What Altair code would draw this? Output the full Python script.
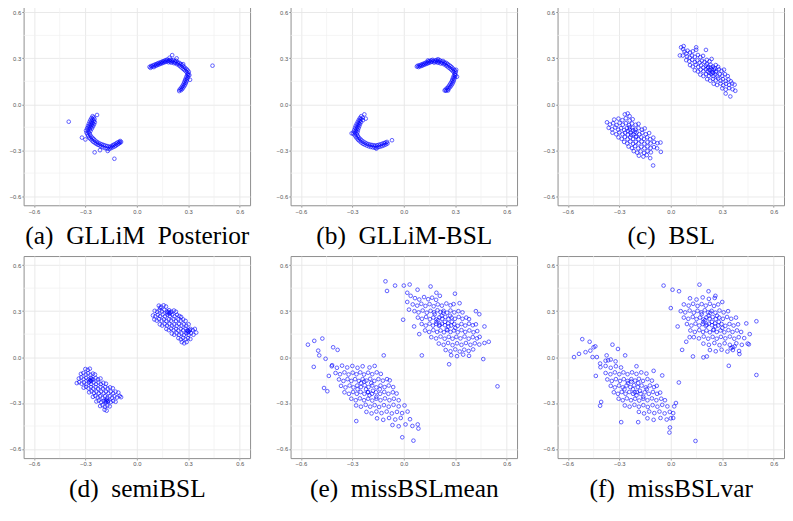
import altair as alt
import pandas as pd

# ---------------- data ----------------
MAJOR = [-0.6, -0.3, 0.0, 0.3, 0.6]
MINOR = [-0.45, -0.15, 0.15, 0.45]
DOMAIN = [-0.66, 0.66]

CAPTIONS = ["(a)\u00a0\u00a0GLLiM\u00a0\u00a0Posterior", "(b)\u00a0\u00a0GLLiM-BSL", "(c)\u00a0\u00a0BSL",
            "(d)\u00a0\u00a0semiBSL", "(e)\u00a0\u00a0missBSLmean", "(f)\u00a0\u00a0missBSLvar"]

A_UPPER = [
(0.074,0.244),(0.080,0.238),(0.083,0.250),(0.090,0.246),(0.094,0.254),(0.099,0.243),(0.103,0.258),(0.108,0.251),
(0.112,0.262),(0.116,0.254),(0.120,0.266),(0.124,0.258),(0.128,0.270),(0.133,0.262),(0.137,0.273),(0.141,0.266),
(0.145,0.277),(0.149,0.269),(0.153,0.281),(0.157,0.273),(0.161,0.284),(0.165,0.276),(0.169,0.288),(0.173,0.279),
(0.177,0.292),(0.181,0.283),(0.185,0.274),(0.189,0.287),(0.193,0.279),(0.197,0.291),(0.201,0.272),(0.205,0.284),
(0.209,0.276),(0.213,0.289),(0.217,0.268),(0.221,0.280),(0.225,0.271),(0.229,0.284),(0.233,0.262),(0.237,0.275),
(0.241,0.266),(0.245,0.255),(0.249,0.270),(0.253,0.248),(0.257,0.262),(0.261,0.240),(0.265,0.254),(0.269,0.232),
(0.273,0.246),(0.277,0.224),(0.281,0.238),(0.285,0.216),(0.289,0.230),(0.292,0.208),(0.296,0.221),(0.299,0.199),
(0.303,0.212),(0.300,0.188),(0.294,0.193),(0.297,0.176),(0.289,0.181),(0.293,0.164),(0.285,0.168),(0.290,0.152),
(0.281,0.157),(0.286,0.141),(0.277,0.146),(0.282,0.130),(0.273,0.134),(0.277,0.120),(0.268,0.123),(0.271,0.110),
(0.262,0.113),(0.265,0.100),(0.256,0.103),(0.258,0.092),(0.249,0.095),(0.247,0.086),
(0.441,0.252),(0.206,0.321),(0.191,0.304),(0.232,0.300),(0.270,0.262),(0.306,0.190),(0.310,0.160),
]
A_LOWER = [
(-0.258,-0.078),(-0.252,-0.086),(-0.264,-0.090),(-0.247,-0.096),(-0.258,-0.100),(-0.270,-0.102),(-0.250,-0.108),
(-0.263,-0.112),(-0.275,-0.114),(-0.245,-0.118),(-0.256,-0.122),(-0.268,-0.125),(-0.280,-0.128),(-0.250,-0.132),
(-0.262,-0.135),(-0.274,-0.138),(-0.285,-0.142),(-0.256,-0.145),(-0.268,-0.149),(-0.280,-0.152),(-0.290,-0.157),
(-0.262,-0.158),(-0.274,-0.163),(-0.286,-0.168),(-0.296,-0.172),(-0.270,-0.174),(-0.282,-0.180),(-0.293,-0.186),
(-0.276,-0.190),(-0.288,-0.196),(-0.272,-0.201),(-0.284,-0.207),(-0.266,-0.212),(-0.278,-0.218),(-0.258,-0.220),
(-0.270,-0.227),(-0.250,-0.229),(-0.262,-0.236),(-0.242,-0.238),(-0.254,-0.245),(-0.233,-0.246),(-0.245,-0.252),
(-0.224,-0.252),(-0.236,-0.259),(-0.214,-0.258),(-0.226,-0.265),(-0.204,-0.262),(-0.216,-0.270),(-0.194,-0.266),
(-0.206,-0.276),(-0.184,-0.270),(-0.196,-0.282),(-0.174,-0.273),(-0.184,-0.287),(-0.164,-0.276),(-0.172,-0.290),
(-0.155,-0.279),(-0.160,-0.293),(-0.146,-0.272),(-0.150,-0.286),(-0.138,-0.266),(-0.140,-0.281),(-0.130,-0.262),
(-0.130,-0.276),(-0.121,-0.256),(-0.122,-0.270),(-0.113,-0.250),(-0.114,-0.264),(-0.104,-0.246),(-0.106,-0.258),
(-0.097,-0.240),(-0.098,-0.252),(-0.092,-0.246),
(-0.397,-0.114),(-0.320,-0.218),(-0.131,-0.356),(-0.246,-0.314),(-0.300,-0.230),(-0.215,-0.300),(-0.170,-0.305),
(-0.232,-0.070),
]

B_UPPER = [
(0.076,0.246),(0.081,0.252),(0.086,0.243),(0.090,0.254),(0.095,0.248),(0.099,0.258),(0.104,0.251),(0.108,0.262),
(0.112,0.255),(0.117,0.266),(0.121,0.259),(0.125,0.270),(0.130,0.263),(0.134,0.274),(0.139,0.267),(0.143,0.279),
(0.147,0.271),(0.151,0.283),(0.156,0.275),(0.160,0.287),(0.164,0.278),(0.168,0.290),(0.173,0.281),(0.177,0.272),
(0.181,0.285),(0.185,0.277),(0.190,0.289),(0.194,0.280),(0.198,0.271),(0.202,0.284),(0.206,0.275),(0.211,0.287),
(0.215,0.266),(0.219,0.279),(0.223,0.270),(0.228,0.283),(0.232,0.262),(0.236,0.275),(0.240,0.266),(0.244,0.255),
(0.248,0.270),(0.252,0.249),(0.256,0.262),(0.260,0.241),(0.265,0.255),(0.269,0.234),(0.273,0.248),(0.277,0.226),
(0.281,0.240),(0.285,0.217),(0.289,0.231),(0.292,0.209),(0.296,0.222),(0.299,0.200),(0.303,0.212),(0.301,0.189),
(0.295,0.193),(0.298,0.178),(0.290,0.182),(0.294,0.166),(0.286,0.170),(0.291,0.154),(0.282,0.158),(0.287,0.143),
(0.278,0.147),(0.282,0.132),(0.272,0.136),(0.276,0.122),(0.266,0.125),(0.270,0.112),(0.259,0.114),(0.262,0.103),
(0.251,0.105),(0.254,0.095),(0.243,0.096),(0.246,0.088),(0.238,0.090),
(0.310,0.180),(0.305,0.225),(0.258,0.090),(0.140,0.286),(0.200,0.294),
]
B_LOWER = [
(-0.248,-0.078),(-0.240,-0.088),(-0.256,-0.090),(-0.250,-0.098),(-0.262,-0.102),(-0.238,-0.104),(-0.256,-0.110),
(-0.268,-0.114),(-0.250,-0.118),(-0.262,-0.124),(-0.274,-0.127),(-0.256,-0.131),(-0.268,-0.137),(-0.280,-0.140),
(-0.260,-0.144),(-0.272,-0.150),(-0.284,-0.153),(-0.264,-0.157),(-0.276,-0.162),(-0.288,-0.166),(-0.268,-0.170),
(-0.280,-0.175),(-0.292,-0.179),(-0.270,-0.183),(-0.283,-0.188),(-0.295,-0.192),(-0.274,-0.196),(-0.286,-0.202),
(-0.268,-0.207),(-0.280,-0.212),(-0.262,-0.218),(-0.274,-0.222),(-0.254,-0.227),(-0.266,-0.232),(-0.246,-0.236),
(-0.258,-0.241),(-0.236,-0.244),(-0.248,-0.250),(-0.226,-0.251),(-0.238,-0.258),(-0.216,-0.257),(-0.228,-0.264),
(-0.206,-0.261),(-0.216,-0.270),(-0.196,-0.264),(-0.204,-0.275),(-0.186,-0.266),(-0.192,-0.279),(-0.176,-0.268),
(-0.180,-0.282),(-0.166,-0.270),(-0.168,-0.284),(-0.156,-0.268),(-0.157,-0.282),(-0.146,-0.265),(-0.146,-0.279),
(-0.136,-0.262),(-0.135,-0.276),(-0.126,-0.258),(-0.124,-0.272),(-0.116,-0.254),(-0.114,-0.267),(-0.107,-0.250),
(-0.104,-0.262),(-0.098,-0.246),(-0.095,-0.256),
(-0.069,-0.235),(-0.304,-0.190),(-0.230,-0.066),(-0.222,-0.094),(-0.160,-0.290),
]

C_UPPER = [
(0.060,0.372),(0.075,0.380),(0.072,0.360),
(0.080,0.344),(0.098,0.350),(0.112,0.338),(0.128,0.346),(0.090,0.332),(0.148,0.356),
(0.070,0.318),(0.095,0.312),(0.110,0.305),(0.124,0.318),(0.140,0.310),(0.158,0.322),(0.172,0.308),(0.188,0.316),
(0.090,0.288),(0.108,0.280),(0.125,0.290),(0.140,0.276),(0.155,0.286),(0.168,0.272),(0.182,0.284),(0.196,0.276),
(0.210,0.290),(0.226,0.280),(0.238,0.296),
(0.112,0.256),(0.128,0.246),(0.145,0.258),(0.160,0.244),(0.176,0.254),(0.190,0.240),(0.204,0.252),(0.218,0.244),
(0.232,0.258),(0.246,0.246),(0.262,0.256),(0.276,0.244),
(0.140,0.222),(0.158,0.214),(0.174,0.226),(0.190,0.216),(0.204,0.228),(0.216,0.214),(0.228,0.224),(0.240,0.212),
(0.252,0.226),(0.266,0.216),(0.280,0.228),(0.296,0.218),(0.310,0.226),
(0.172,0.194),(0.190,0.184),(0.206,0.196),(0.222,0.186),(0.236,0.198),(0.248,0.184),(0.260,0.194),(0.272,0.182),
(0.286,0.196),(0.300,0.186),(0.316,0.196),(0.332,0.184),
(0.212,0.164),(0.230,0.154),(0.246,0.166),(0.262,0.156),(0.276,0.168),(0.290,0.154),(0.304,0.164),(0.320,0.152),
(0.336,0.162),(0.350,0.150),
(0.250,0.134),(0.270,0.126),(0.290,0.136),(0.306,0.124),(0.322,0.134),(0.340,0.126),(0.358,0.136),(0.372,0.128),
(0.300,0.104),(0.320,0.096),(0.340,0.106),(0.360,0.098),(0.376,0.088),
(0.347,0.051),(0.053,0.319),(0.148,0.372),(0.205,0.355),(0.320,0.070),
(0.215,0.235),(0.232,0.240),(0.245,0.205),(0.225,0.205),(0.255,0.236),(0.240,0.228),(0.210,0.262),(0.262,0.210),
]
C_LOWER = [
(-0.268,-0.066),(-0.251,-0.060),(-0.240,-0.078),
(-0.330,-0.100),(-0.305,-0.094),(-0.282,-0.104),(-0.262,-0.092),(-0.240,-0.106),(-0.222,-0.098),
(-0.372,-0.118),(-0.355,-0.132),(-0.336,-0.124),(-0.316,-0.136),(-0.298,-0.122),(-0.280,-0.134),(-0.262,-0.124),
(-0.244,-0.136),(-0.226,-0.126),(-0.205,-0.134),(-0.188,-0.128),
(-0.362,-0.154),(-0.342,-0.164),(-0.324,-0.152),(-0.306,-0.166),(-0.290,-0.156),(-0.272,-0.168),(-0.256,-0.156),
(-0.240,-0.166),(-0.224,-0.154),(-0.206,-0.166),(-0.188,-0.156),(-0.168,-0.166),(-0.152,-0.158),
(-0.340,-0.186),(-0.318,-0.196),(-0.300,-0.184),(-0.282,-0.196),(-0.266,-0.186),(-0.250,-0.198),(-0.234,-0.186),
(-0.218,-0.196),(-0.200,-0.184),(-0.184,-0.196),(-0.166,-0.186),(-0.146,-0.196),(-0.126,-0.188),
(-0.305,-0.216),(-0.286,-0.226),(-0.268,-0.214),(-0.252,-0.228),(-0.236,-0.216),(-0.220,-0.226),(-0.204,-0.214),
(-0.188,-0.228),(-0.172,-0.216),(-0.156,-0.226),(-0.138,-0.216),(-0.120,-0.228),(-0.102,-0.218),
(-0.272,-0.246),(-0.254,-0.256),(-0.236,-0.244),(-0.220,-0.258),(-0.204,-0.246),(-0.188,-0.256),(-0.170,-0.244),
(-0.154,-0.258),(-0.136,-0.248),(-0.118,-0.256),(-0.098,-0.246),(-0.078,-0.254),(-0.060,-0.250),
(-0.246,-0.276),(-0.226,-0.286),(-0.208,-0.274),(-0.190,-0.288),(-0.172,-0.278),(-0.154,-0.288),(-0.136,-0.276),
(-0.118,-0.286),(-0.098,-0.280),(-0.080,-0.288),
(-0.216,-0.306),(-0.196,-0.316),(-0.176,-0.308),(-0.156,-0.318),(-0.136,-0.306),(-0.116,-0.314),(-0.058,-0.311),
(-0.186,-0.336),(-0.160,-0.342),(-0.140,-0.332),
(-0.103,-0.400),(-0.120,-0.352),
(-0.250,-0.175),(-0.230,-0.200),(-0.210,-0.180),(-0.240,-0.150),(-0.200,-0.210),(-0.220,-0.170),
]

D_UPPER = [
(0.128,0.336),(0.142,0.328),(0.156,0.338),(0.170,0.330),(0.135,0.322),
(0.104,0.302),(0.118,0.296),(0.132,0.306),(0.146,0.298),(0.160,0.308),(0.174,0.298),(0.188,0.306),(0.202,0.296),
(0.216,0.304),(0.228,0.296),
(0.094,0.272),(0.108,0.266),(0.122,0.276),(0.136,0.268),(0.150,0.278),(0.164,0.266),(0.178,0.276),(0.192,0.268),
(0.206,0.278),(0.220,0.266),(0.234,0.276),(0.248,0.268),(0.258,0.262),
(0.102,0.246),(0.116,0.238),(0.130,0.248),(0.144,0.238),(0.158,0.246),(0.172,0.236),(0.186,0.246),(0.200,0.238),
(0.214,0.248),(0.228,0.236),(0.242,0.246),(0.256,0.238),(0.270,0.246),(0.284,0.236),
(0.134,0.214),(0.148,0.206),(0.162,0.216),(0.176,0.206),(0.190,0.216),(0.204,0.206),(0.218,0.214),(0.232,0.204),
(0.246,0.216),(0.260,0.206),(0.274,0.214),(0.288,0.204),(0.302,0.214),
(0.172,0.184),(0.186,0.176),(0.200,0.186),(0.214,0.176),(0.228,0.184),(0.242,0.174),(0.256,0.184),(0.270,0.176),
(0.284,0.186),(0.298,0.174),(0.312,0.184),(0.326,0.176),(0.338,0.184),
(0.204,0.154),(0.218,0.146),(0.232,0.156),(0.246,0.146),(0.260,0.154),(0.274,0.144),(0.288,0.156),(0.302,0.146),
(0.316,0.156),(0.330,0.146),(0.346,0.160),
(0.242,0.124),(0.256,0.116),(0.270,0.126),(0.284,0.116),(0.298,0.124),(0.312,0.118),
(0.262,0.098),(0.276,0.090),(0.290,0.098),
(0.178,0.290),(0.190,0.284),(0.185,0.295),(0.196,0.290),(0.292,0.172),(0.302,0.166),(0.296,0.160),(0.308,0.176),
]
D_LOWER = [
(-0.300,-0.078),(-0.286,-0.084),(-0.274,-0.076),
(-0.326,-0.110),(-0.312,-0.104),(-0.298,-0.114),(-0.284,-0.106),(-0.270,-0.116),(-0.256,-0.108),(-0.244,-0.114),
(-0.338,-0.140),(-0.324,-0.134),(-0.310,-0.144),(-0.296,-0.136),(-0.282,-0.146),(-0.268,-0.136),(-0.254,-0.146),
(-0.240,-0.138),(-0.226,-0.146),(-0.212,-0.140),
(-0.350,-0.170),(-0.336,-0.164),(-0.322,-0.174),(-0.308,-0.166),(-0.294,-0.176),(-0.280,-0.166),(-0.266,-0.176),
(-0.252,-0.166),(-0.238,-0.176),(-0.224,-0.166),(-0.210,-0.176),(-0.196,-0.168),(-0.180,-0.174),
(-0.310,-0.200),(-0.296,-0.194),(-0.282,-0.204),(-0.268,-0.196),(-0.254,-0.206),(-0.240,-0.196),(-0.226,-0.206),
(-0.212,-0.196),(-0.198,-0.206),(-0.184,-0.196),(-0.170,-0.206),(-0.156,-0.198),(-0.140,-0.204),
(-0.278,-0.230),(-0.264,-0.224),(-0.250,-0.234),(-0.236,-0.226),(-0.222,-0.236),(-0.208,-0.226),(-0.194,-0.236),
(-0.180,-0.226),(-0.166,-0.236),(-0.152,-0.226),(-0.138,-0.236),(-0.124,-0.226),(-0.108,-0.232),
(-0.256,-0.260),(-0.242,-0.254),(-0.228,-0.264),(-0.214,-0.256),(-0.200,-0.266),(-0.186,-0.256),(-0.172,-0.266),
(-0.158,-0.256),(-0.144,-0.266),(-0.130,-0.256),(-0.116,-0.264),(-0.100,-0.254),(-0.092,-0.262),
(-0.236,-0.290),(-0.222,-0.284),(-0.208,-0.294),(-0.194,-0.286),(-0.180,-0.296),(-0.166,-0.286),(-0.152,-0.294),
(-0.138,-0.286),(-0.124,-0.292),
(-0.214,-0.320),(-0.200,-0.314),(-0.186,-0.324),(-0.172,-0.316),(-0.158,-0.322),
(-0.188,-0.344),(-0.176,-0.350),
(-0.272,-0.150),(-0.262,-0.144),(-0.276,-0.158),(-0.266,-0.156),(-0.178,-0.284),(-0.170,-0.292),(-0.184,-0.290),
(-0.174,-0.278),
]

E_UPPER = [
(0.065,0.385),(0.090,0.376),(0.118,0.392),(0.142,0.378),(0.165,0.388),(0.188,0.374),
(0.052,0.344),(0.078,0.336),(0.102,0.348),(0.126,0.334),(0.150,0.346),(0.174,0.332),(0.198,0.344),(0.222,0.336),
(0.248,0.350),(0.272,0.338),(0.290,0.346),
(0.062,0.300),(0.086,0.292),(0.110,0.304),(0.134,0.290),(0.156,0.302),(0.176,0.292),(0.196,0.306),(0.214,0.294),
(0.232,0.302),(0.252,0.290),(0.272,0.304),(0.294,0.292),(0.318,0.300),(0.342,0.292),
(0.082,0.258),(0.106,0.250),(0.130,0.262),(0.152,0.248),(0.172,0.258),(0.190,0.246),(0.208,0.260),(0.224,0.250),
(0.242,0.262),(0.260,0.248),(0.278,0.258),(0.298,0.250),(0.320,0.262),(0.342,0.250),(0.364,0.258),(0.380,0.248),
(0.104,0.216),(0.128,0.206),(0.150,0.218),(0.170,0.206),(0.188,0.216),(0.206,0.204),(0.222,0.218),(0.240,0.208),
(0.258,0.220),(0.276,0.206),(0.294,0.216),(0.314,0.204),(0.336,0.216),(0.358,0.206),(0.380,0.218),(0.402,0.208),
(0.420,0.214),
(0.124,0.174),(0.148,0.164),(0.172,0.176),(0.194,0.164),(0.214,0.174),(0.234,0.162),(0.254,0.176),(0.272,0.164),
(0.292,0.174),(0.314,0.162),(0.336,0.176),(0.358,0.164),(0.382,0.174),(0.406,0.162),(0.428,0.170),
(0.160,0.130),(0.188,0.122),(0.214,0.134),(0.238,0.120),(0.262,0.132),(0.284,0.120),(0.306,0.132),(0.330,0.122),
(0.354,0.134),(0.378,0.120),(0.402,0.130),(0.426,0.122),(0.442,0.132),
(0.204,0.088),(0.232,0.080),(0.258,0.092),(0.284,0.078),(0.310,0.090),(0.336,0.080),(0.362,0.092),(0.388,0.080),
(0.414,0.090),(0.440,0.082),(0.470,0.092),
(0.244,0.046),(0.272,0.038),(0.300,0.050),(0.326,0.036),(0.352,0.048),(0.378,0.040),(0.404,0.050),
(0.276,0.012),(0.310,0.006),(0.346,0.016),(0.380,0.008),
(0.546,-0.191),(0.105,0.011),(0.264,-0.047),(-0.004,0.244),(0.463,-0.013),(0.495,0.100),(-0.107,0.495),
(-0.098,0.432),(-0.051,0.467),(0.000,0.467),(0.034,0.474),(0.156,0.461),(0.298,0.414),(0.325,0.352),(0.420,0.300),
(0.080,0.440),(0.020,0.420),(0.040,0.400),(0.190,0.420),(0.210,0.400),(0.440,0.280),(0.470,0.200),(0.020,0.360),
(0.030,0.310),(0.060,0.200),(0.090,0.150),
(0.200,0.240),(0.220,0.270),(0.240,0.230),(0.260,0.200),(0.280,0.230),(0.180,0.280),(0.300,0.190),(0.250,0.180),
(0.210,0.210),(0.230,0.290),(0.270,0.270),(0.190,0.230),
]
E_LOWER = [
(-0.522,0.106),(-0.475,0.121),(-0.559,0.081),(-0.499,0.042),(-0.493,0.011),(-0.456,-0.011),(-0.525,-0.064),
(-0.437,-0.123),(-0.465,-0.202),(-0.446,-0.223),(-0.418,-0.053),(-0.386,0.047),(-0.412,0.064),
(-0.420,-0.060),(-0.390,-0.070),(-0.360,-0.056),(-0.330,-0.068),(-0.300,-0.058),(-0.270,-0.070),(-0.240,-0.060),
(-0.200,-0.068),(-0.170,-0.058),
(-0.398,-0.104),(-0.372,-0.112),(-0.346,-0.100),(-0.322,-0.114),(-0.298,-0.102),(-0.276,-0.112),(-0.254,-0.100),
(-0.232,-0.114),(-0.208,-0.102),(-0.184,-0.112),(-0.158,-0.100),(-0.134,-0.110),
(-0.378,-0.146),(-0.352,-0.156),(-0.328,-0.144),(-0.306,-0.156),(-0.284,-0.144),(-0.262,-0.156),(-0.240,-0.144),
(-0.218,-0.154),(-0.196,-0.142),(-0.172,-0.156),(-0.148,-0.144),(-0.122,-0.154),(-0.098,-0.144),(-0.082,-0.152),
(-0.366,-0.188),(-0.340,-0.198),(-0.316,-0.186),(-0.294,-0.198),(-0.272,-0.186),(-0.250,-0.196),(-0.228,-0.184),
(-0.206,-0.196),(-0.184,-0.186),(-0.160,-0.198),(-0.136,-0.186),(-0.112,-0.196),(-0.088,-0.186),(-0.062,-0.196),
(-0.346,-0.230),(-0.320,-0.240),(-0.296,-0.228),(-0.274,-0.240),(-0.252,-0.228),(-0.230,-0.240),(-0.208,-0.228),
(-0.186,-0.240),(-0.162,-0.230),(-0.138,-0.240),(-0.114,-0.228),(-0.090,-0.240),(-0.064,-0.230),(-0.042,-0.238),
(-0.306,-0.272),(-0.280,-0.282),(-0.256,-0.270),(-0.232,-0.282),(-0.208,-0.272),(-0.184,-0.284),(-0.160,-0.272),
(-0.136,-0.282),(-0.110,-0.270),(-0.084,-0.282),(-0.058,-0.272),(-0.030,-0.282),
(-0.278,-0.316),(-0.250,-0.324),(-0.222,-0.312),(-0.196,-0.324),(-0.170,-0.314),(-0.144,-0.326),(-0.116,-0.314),
(-0.088,-0.324),(-0.060,-0.312),(-0.030,-0.322),(0.004,-0.316),
(-0.218,-0.358),(-0.188,-0.368),(-0.160,-0.356),(-0.130,-0.366),(-0.100,-0.356),(-0.070,-0.368),(-0.040,-0.358),
(-0.010,-0.366),(0.022,-0.356),
(-0.156,-0.400),(-0.120,-0.410),(-0.086,-0.398),(-0.050,-0.408),(-0.018,-0.398),(0.036,-0.406),
(-0.066,-0.444),(-0.030,-0.452),(0.010,-0.440),(0.050,-0.450),(0.081,-0.440),
(-0.277,-0.418),(-0.009,-0.524),(0.056,-0.546),(-0.117,0.011),(0.085,-0.467),
(-0.250,-0.170),(-0.220,-0.210),(-0.200,-0.250),(-0.180,-0.220),(-0.160,-0.260),(-0.270,-0.210),(-0.230,-0.160),
(-0.140,-0.210),(-0.190,-0.170),(-0.210,-0.230),
]

F_UPPER = [
(0.112,0.384),(0.150,0.376),(0.186,0.390),(0.222,0.380),(0.256,0.386),
(0.076,0.344),(0.104,0.336),(0.130,0.348),(0.156,0.334),(0.180,0.346),(0.204,0.336),(0.228,0.348),(0.252,0.334),
(0.276,0.344),
(0.058,0.300),(0.084,0.292),(0.110,0.304),(0.134,0.290),(0.156,0.302),(0.178,0.292),(0.198,0.306),(0.218,0.292),
(0.238,0.302),(0.260,0.290),(0.284,0.304),(0.308,0.292),(0.334,0.300),
(0.076,0.258),(0.102,0.250),(0.128,0.262),(0.150,0.248),(0.170,0.258),(0.190,0.246),(0.208,0.260),(0.226,0.250),
(0.244,0.262),(0.262,0.248),(0.282,0.258),(0.304,0.250),(0.328,0.262),(0.352,0.250),(0.380,0.258),
(0.094,0.216),(0.120,0.206),(0.144,0.218),(0.166,0.206),(0.186,0.216),(0.204,0.204),(0.222,0.218),(0.240,0.208),
(0.258,0.220),(0.276,0.206),(0.296,0.216),(0.318,0.204),(0.342,0.216),(0.366,0.206),(0.392,0.214),
(0.114,0.174),(0.140,0.164),(0.166,0.176),(0.188,0.164),(0.208,0.174),(0.228,0.162),(0.248,0.176),(0.268,0.164),
(0.290,0.174),(0.312,0.162),(0.336,0.176),(0.360,0.164),(0.386,0.174),(0.410,0.164),
(0.134,0.130),(0.164,0.122),(0.192,0.134),(0.218,0.120),(0.244,0.132),(0.268,0.120),(0.292,0.132),(0.318,0.122),
(0.344,0.134),(0.370,0.120),(0.396,0.130),(0.428,0.124),
(0.190,0.088),(0.222,0.080),(0.254,0.092),(0.284,0.078),(0.314,0.090),(0.344,0.080),(0.360,0.064),(0.350,0.058),
(0.372,0.070),(0.382,0.090),(0.414,0.080),(0.448,0.088),
(0.228,0.046),(0.262,0.038),(0.296,0.048),(0.330,0.036),(0.362,0.046),(0.398,0.040),
(-0.042,0.467),(0.010,0.440),(0.048,0.430),(0.167,0.473),(0.499,0.234),(0.499,-0.117),(0.338,-0.057),(0.129,0.004),
(0.066,0.047),(0.210,0.004),(0.190,-0.002),(0.455,0.083),(0.400,0.020),(0.110,0.130),(0.000,0.320),(0.220,0.430),
(0.260,0.400),(0.300,0.360),(0.440,0.220),(0.460,0.150),(0.040,0.200),(0.090,0.100),
(0.200,0.240),(0.220,0.270),(0.240,0.230),(0.260,0.200),(0.280,0.230),(0.180,0.280),(0.300,0.190),(0.250,0.180),
(0.210,0.210),(0.230,0.290),(0.270,0.270),(0.190,0.230),
]
F_LOWER = [
(-0.564,0.000),(-0.516,0.117),(-0.535,0.021),(-0.497,0.032),(-0.473,0.100),(-0.469,0.042),(-0.450,0.064),
(-0.456,0.000),(-0.431,0.000),(-0.440,0.070),(-0.412,-0.042),(-0.437,-0.123),(-0.406,-0.293),(-0.412,-0.318),
(-0.374,0.011),(-0.365,-0.021),(-0.340,0.081),(-0.308,0.053),(-0.266,0.011),
(-0.380,-0.024),(-0.350,-0.016),(-0.322,-0.028),
(-0.410,-0.066),(-0.380,-0.058),(-0.350,-0.070),(-0.320,-0.060),(-0.290,-0.068),
(-0.380,-0.104),(-0.352,-0.112),(-0.326,-0.100),(-0.300,-0.112),(-0.276,-0.100),(-0.252,-0.112),(-0.226,-0.100),
(-0.200,-0.110),(-0.172,-0.100),(-0.142,-0.108),
(-0.370,-0.146),(-0.344,-0.156),(-0.320,-0.144),(-0.296,-0.156),(-0.274,-0.144),(-0.252,-0.156),(-0.230,-0.144),
(-0.208,-0.154),(-0.186,-0.142),(-0.162,-0.156),(-0.136,-0.144),(-0.110,-0.154),
(-0.350,-0.188),(-0.326,-0.198),(-0.302,-0.186),(-0.280,-0.198),(-0.258,-0.186),(-0.236,-0.196),(-0.214,-0.184),
(-0.192,-0.196),(-0.170,-0.186),(-0.146,-0.198),(-0.122,-0.186),(-0.098,-0.196),(-0.082,-0.188),
(-0.332,-0.230),(-0.308,-0.240),(-0.286,-0.228),(-0.264,-0.240),(-0.242,-0.228),(-0.220,-0.240),(-0.198,-0.228),
(-0.176,-0.240),(-0.152,-0.230),(-0.128,-0.240),(-0.104,-0.228),(-0.080,-0.240),(-0.062,-0.232),
(-0.304,-0.272),(-0.280,-0.282),(-0.256,-0.270),(-0.232,-0.282),(-0.208,-0.272),(-0.184,-0.284),(-0.160,-0.272),
(-0.136,-0.282),(-0.110,-0.270),(-0.084,-0.282),(-0.056,-0.272),(-0.034,-0.282),
(-0.268,-0.316),(-0.240,-0.324),(-0.212,-0.312),(-0.186,-0.324),(-0.160,-0.314),(-0.134,-0.326),(-0.106,-0.314),
(-0.078,-0.324),(-0.050,-0.312),(-0.020,-0.322),(0.020,-0.322),
(-0.186,-0.358),(-0.156,-0.368),(-0.126,-0.356),(-0.096,-0.366),(-0.066,-0.356),(-0.036,-0.368),(-0.006,-0.358),
(0.014,-0.366),
(-0.136,-0.400),(-0.100,-0.410),(-0.060,-0.398),(-0.024,-0.408),(0.000,-0.400),(0.014,-0.398),
(0.144,-0.548),(-0.008,-0.493),(-0.289,-0.425),(0.047,-0.166),(-0.190,-0.425),(-0.005,-0.460),(0.030,-0.300),
(-0.050,-0.120),(-0.100,-0.090),(-0.200,-0.060),
(-0.250,-0.170),(-0.220,-0.210),(-0.200,-0.250),(-0.180,-0.220),(-0.160,-0.260),(-0.270,-0.210),(-0.230,-0.160),
(-0.140,-0.210),(-0.190,-0.170),(-0.210,-0.230),
]

PANELS = [A_UPPER + A_LOWER, B_UPPER + B_LOWER, C_UPPER + C_LOWER,
          D_UPPER + D_LOWER, E_UPPER + E_LOWER, F_UPPER + F_LOWER]

# ---------------- chart ----------------
W, H = 232, 207
SERIF = "Liberation Serif, Times New Roman, Times, serif"
scale = alt.Scale(domain=DOMAIN, nice=False, zero=False)
minor_df = pd.DataFrame({"v": MINOR})


def panel(points, caption):
    df = pd.DataFrame(points, columns=["x", "y"])
    vr = alt.Chart(minor_df).mark_rule(color="#f0f0f0", strokeWidth=0.7).encode(
        x=alt.X("v:Q", scale=scale))
    hr = alt.Chart(minor_df).mark_rule(color="#f0f0f0", strokeWidth=0.7).encode(
        y=alt.Y("v:Q", scale=scale))
    pts = alt.Chart(df).mark_point(
        filled=False, color="#0000ff", opacity=0.7, size=14, strokeWidth=0.9
    ).encode(
        x=alt.X("x:Q", scale=scale,
                axis=alt.Axis(values=MAJOR, format=".1f", title=caption,
                              titleFont=SERIF, titleFontSize=26,
                              titleFontWeight="normal", titleColor="#000000",
                              titleBaseline="alphabetic", titleX=W / 2, titleY=39,
                              titleAlign="center")),
        y=alt.Y("y:Q", scale=scale,
                axis=alt.Axis(values=MAJOR, format=".1f", title=None)),
    )
    return alt.layer(vr, hr, pts).properties(width=W, height=H)


chart = alt.concat(*[panel(p, c) for p, c in zip(PANELS, CAPTIONS)], columns=3).properties(
    spacing={"row": 52, "column": 41.5},
    bounds="flush",
    padding={"left": 0, "top": -12, "right": 0, "bottom": 0},
).configure_view(
    stroke="#8c8c8c", strokeWidth=1
).configure_axis(
    labelFont="Liberation Sans", labelFontSize=6, labelColor="#555555",
    tickColor="#666666", tickSize=2, tickWidth=0.6, labelPadding=1,
    domain=False, grid=True, gridColor="#e6e6e6", gridWidth=0.9,
    titleFont=SERIF,
)

chart.save("out.html", embed_options={"renderer": "svg", "actions": False})
